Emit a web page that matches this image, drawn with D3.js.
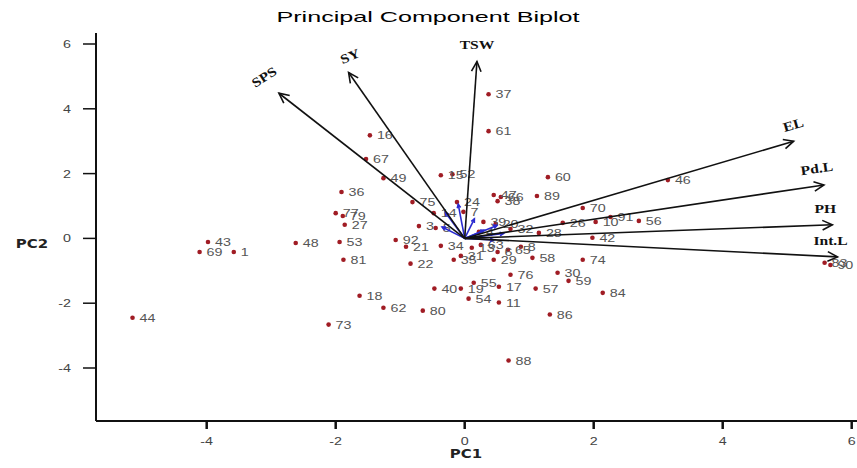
<!DOCTYPE html>
<html>
<head>
<meta charset="utf-8">
<script src="https://cdn.jsdelivr.net/npm/d3@7"></script>
<style>
  body { margin: 0; background: #fff; }
  svg { display: block; }
</style>
</head>
<body>
<div id="chart"></div>
<script>
// observation scores (PC1, PC2) and their ids
const obsIds = ["37","61","16","67","49","15","52","60","46","36","47","66","38","89","75","24",
                "70","77","79","27","14","91","26","10","56","39","20","32","28","3","5","42",
                "48","53","43","69","1","92","21","34","63","13","65","31","35","29","58","74",
                "81","22","76","30","59","84","40","19","55","17","57","54","11","18","62","80",
                "86","44","73","88","83","90","7","4","8","6"];
const pc1 = [0.37,0.37,-1.47,-1.53,-1.26,-0.37,-0.19,1.29,3.15,-1.91,0.45,0.56,0.51,1.12,-0.81,-0.12,
             1.83,-2.0,-1.89,-1.86,-0.48,2.26,1.52,2.03,2.70,0.29,0.48,0.71,1.15,-0.71,-0.45,1.98,
             -2.62,-1.94,-3.98,-4.11,-3.58,-1.07,-0.91,-0.37,0.25,0.11,0.67,-0.06,-0.17,0.45,1.05,1.83,
             -1.88,-0.84,0.71,1.44,1.61,2.14,-0.47,-0.06,0.14,0.53,1.10,0.06,0.53,-1.63,-1.26,-0.65,
             1.32,-5.15,-2.11,0.68,5.58,5.67,-0.02,0.22,0.87,0.51];
const pc2 = [4.45,3.31,3.18,2.45,1.86,1.95,1.98,1.89,1.80,1.43,1.34,1.28,1.15,1.31,1.12,1.12,
             0.94,0.78,0.69,0.42,0.78,0.66,0.48,0.51,0.54,0.51,0.45,0.29,0.17,0.38,0.32,0.02,
             -0.14,-0.11,-0.11,-0.42,-0.42,-0.05,-0.26,-0.23,-0.20,-0.29,-0.35,-0.54,-0.66,-0.66,-0.60,-0.66,
             -0.66,-0.78,-1.12,-1.06,-1.31,-1.68,-1.55,-1.55,-1.37,-1.49,-1.55,-1.86,-1.98,-1.77,-2.14,-2.23,
             -2.35,-2.45,-2.66,-3.77,-0.75,-0.82,0.82,0.20,-0.26,-0.42];

// trait loadings (black arrows)
const traitNames = ["SPS","SY","TSW","EL","Pd.L","PH","Int.L"];
const traitPC1 = [-2.88,-1.80,0.19,5.10,5.57,5.70,5.78];
const traitPC2 = [4.48,5.12,5.46,3.00,1.65,0.42,-0.57];
const traitLabelAngle = [-33,-23,0,-16,-8,0,0];

// small blue vectors near the origin
const bluePC1 = [-0.30,-0.10,0.15,0.50,0.60,0.45,-0.35,0.30];
const bluePC2 = [0.80,1.05,0.60,0.40,0.15,-0.05,0.35,0.25];

const ticks = [-4,-2,0,2,4,6];

const width = 857, height = 468;
const svg = d3.select("#chart").append("svg")
    .attr("width", width)
    .attr("height", height);

const x = d3.scaleLinear().domain([-4, 6]).range([206.7, 851.7]);
const y = d3.scaleLinear().domain([-4, 6]).range([368, 44]);
const axisLeft = 96, axisBottom = 421, axisTop = 33;
const sx = 1.3; // the original picture is stretched sideways

// title
svg.append("text")
    .attr("x", 428).attr("y", 22)
    .attr("text-anchor", "middle")
    .attr("font-family", "Liberation Sans, Arial, sans-serif")
    .attr("font-size", 15)
    .attr("textLength", 303).attr("lengthAdjust", "spacingAndGlyphs")
    .text("Principal Component Biplot");

// axes
svg.append("line").attr("x1", axisLeft).attr("x2", axisLeft).attr("y1", axisTop).attr("y2", axisBottom)
    .attr("stroke", "#111").attr("stroke-width", 2);
svg.append("line").attr("x1", axisLeft).attr("x2", width).attr("y1", axisBottom).attr("y2", axisBottom)
    .attr("stroke", "#111").attr("stroke-width", 2);

svg.selectAll(".ytick").data(ticks).enter().append("line")
    .attr("x1", axisLeft - 13).attr("x2", axisLeft)
    .attr("y1", d => y(d)).attr("y2", d => y(d))
    .attr("stroke", "#111").attr("stroke-width", 1.5);
svg.selectAll(".ylab").data(ticks).enter().append("text")
    .attr("transform", d => `translate(71,${y(d) + 4}) scale(${sx},1)`)
    .attr("text-anchor", "end")
    .attr("font-family", "Liberation Sans, Arial, sans-serif")
    .attr("font-size", 11).attr("fill", "#444")
    .text(d => d);

svg.selectAll(".xtick").data(ticks).enter().append("line")
    .attr("x1", d => x(d)).attr("x2", d => x(d))
    .attr("y1", axisBottom).attr("y2", axisBottom + 8)
    .attr("stroke", "#111").attr("stroke-width", 2.5);
svg.selectAll(".xlab").data(ticks).enter().append("text")
    .attr("transform", d => `translate(${x(d)},445) scale(${sx},1)`)
    .attr("text-anchor", "middle")
    .attr("font-family", "Liberation Sans, Arial, sans-serif")
    .attr("font-size", 11).attr("fill", "#444")
    .text(d => d);

// axis titles
svg.append("text")
    .attr("transform", `translate(466,458) scale(1.15,1)`)
    .attr("text-anchor", "middle")
    .attr("font-family", "DejaVu Sans, sans-serif").attr("font-weight", "bold")
    .attr("font-size", 13).attr("fill", "#222")
    .text("PC1");
svg.append("text")
    .attr("transform", `translate(32,248) scale(1.15,1)`)
    .attr("text-anchor", "middle")
    .attr("font-family", "DejaVu Sans, sans-serif").attr("font-weight", "bold")
    .attr("font-size", 13).attr("fill", "#222")
    .text("PC2");

// points
const obs = obsIds.map((id, i) => ({id, a: pc1[i], b: pc2[i]}));
svg.selectAll(".pt").data(obs).enter().append("circle")
    .attr("cx", d => x(d.a)).attr("cy", d => y(d.b))
    .attr("r", 2.3).attr("fill", "#a01c24");
svg.selectAll(".ptlab").data(obs).enter().append("text")
    .attr("transform", d => `translate(${x(d.a) + 7},${y(d.b) + 4}) scale(${sx},1)`)
    .attr("font-family", "Liberation Sans, Arial, sans-serif")
    .attr("font-size", 11).attr("fill", "#555")
    .text(d => d.id);

// arrow helper
function arrow(g, a, b, colour, w, head) {
    const x0 = x(0), y0 = y(0), x1 = x(a), y1 = y(b);
    const ang = Math.atan2(y1 - y0, x1 - x0);
    g.append("line").attr("x1", x0).attr("y1", y0).attr("x2", x1).attr("y2", y1)
        .attr("stroke", colour).attr("stroke-width", w);
    const p = [-0.45, 0.45].map(o => [x1 - head * Math.cos(ang + o), y1 - head * Math.sin(ang + o)]);
    g.append("path")
        .attr("d", `M${p[0][0]},${p[0][1]}L${x1},${y1}L${p[1][0]},${p[1][1]}`)
        .attr("fill", "none").attr("stroke", colour).attr("stroke-width", w);
}

const blue = svg.append("g");
bluePC1.forEach((a, i) => arrow(blue, a, bluePC2[i], "#2a2ad0", 1.6, 4));

const traits = svg.append("g");
traitNames.forEach((n, i) => {
    arrow(traits, traitPC1[i], traitPC2[i], "#111", 1.6, 11);
    const tx = x(traitPC1[i]), ty = y(traitPC2[i]);
    const dx = traitPC1[i] < -1 ? (traitPC1[i] < -2.5 ? -14 : 2) : (traitPC1[i] > 5.3 ? -7 : 0);
    traits.append("text")
        .attr("transform", `translate(${tx + dx},${ty - 15}) rotate(${traitLabelAngle[i]}) scale(1.2,1)`)
        .attr("text-anchor", "middle")
        .attr("dominant-baseline", "middle")
        .attr("font-family", "Liberation Serif, Times New Roman, serif").attr("font-weight", "bold")
        .attr("font-size", 13).attr("fill", "#111")
        .text(n);
});
</script>
</body>
</html>
